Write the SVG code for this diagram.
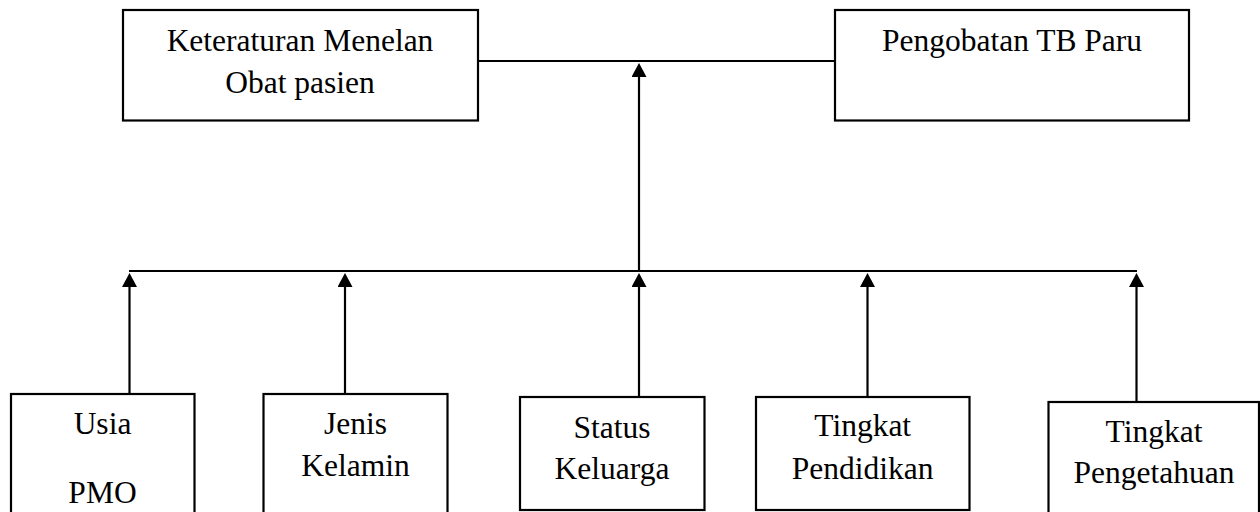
<svg xmlns="http://www.w3.org/2000/svg" width="1260" height="512" viewBox="0 0 1260 512">
<style>
.box{fill:#fff;stroke:#000;stroke-width:2.2}
.ln{fill:none;stroke:#000;stroke-width:2.2}
.t{font-family:"Liberation Serif","Times New Roman",serif;font-size:31.5px;fill:#000;text-anchor:middle}
</style>
<defs>
<marker id="ah" viewBox="0 0 14 15" refX="0" refY="7.5" markerWidth="14" markerHeight="15" markerUnits="userSpaceOnUse" orient="auto">
<path d="M0,0 L14,7.5 L0,15 Z" fill="#000"/>
</marker>
</defs>
<rect width="1260" height="512" fill="#fff"/>
<g id="connectors">
<line class="ln" x1="478" y1="61" x2="835" y2="61"/>
<line class="ln" x1="129" y1="271" x2="1137" y2="271"/>
<path class="ln" d="M639,271 V77" marker-end="url(#ah)"/>
<path class="ln" d="M129.5,394 V287" marker-end="url(#ah)"/>
<path class="ln" d="M345,394 V287" marker-end="url(#ah)"/>
<path class="ln" d="M639,397 V287" marker-end="url(#ah)"/>
<path class="ln" d="M867.5,397 V287" marker-end="url(#ah)"/>
<path class="ln" d="M1136.5,402 V287" marker-end="url(#ah)"/>
</g>
<g id="node-keteraturan">
<rect class="box" x="123" y="10" width="355" height="110.5"/>
<text class="t" x="300" y="51">Keteraturan Menelan</text>
<text class="t" x="300" y="93">Obat pasien</text>
</g>
<g id="node-pengobatan">
<rect class="box" x="835" y="10" width="354" height="110.5"/>
<text class="t" x="1012" y="51">Pengobatan TB Paru</text>
</g>
<g id="node-usia">
<rect class="box" x="11" y="394" width="183.5" height="130"/>
<text class="t" x="102.5" y="434">Usia</text>
<text class="t" x="102.5" y="503">PMO</text>
</g>
<g id="node-jenis">
<rect class="box" x="263.5" y="394" width="184" height="130"/>
<text class="t" x="355.5" y="434">Jenis</text>
<text class="t" x="355.5" y="476">Kelamin</text>
</g>
<g id="node-status">
<rect class="box" x="520" y="397" width="184.5" height="113"/>
<text class="t" x="612" y="438">Status</text>
<text class="t" x="612" y="479">Keluarga</text>
</g>
<g id="node-pendidikan">
<rect class="box" x="756" y="397" width="213.5" height="113"/>
<text class="t" x="862.7" y="436">Tingkat</text>
<text class="t" x="862.7" y="479">Pendidikan</text>
</g>
<g id="node-pengetahuan">
<rect class="box" x="1048.5" y="402" width="210.5" height="130"/>
<text class="t" x="1154" y="442">Tingkat</text>
<text class="t" x="1154" y="483">Pengetahuan</text>
</g>
</svg>
